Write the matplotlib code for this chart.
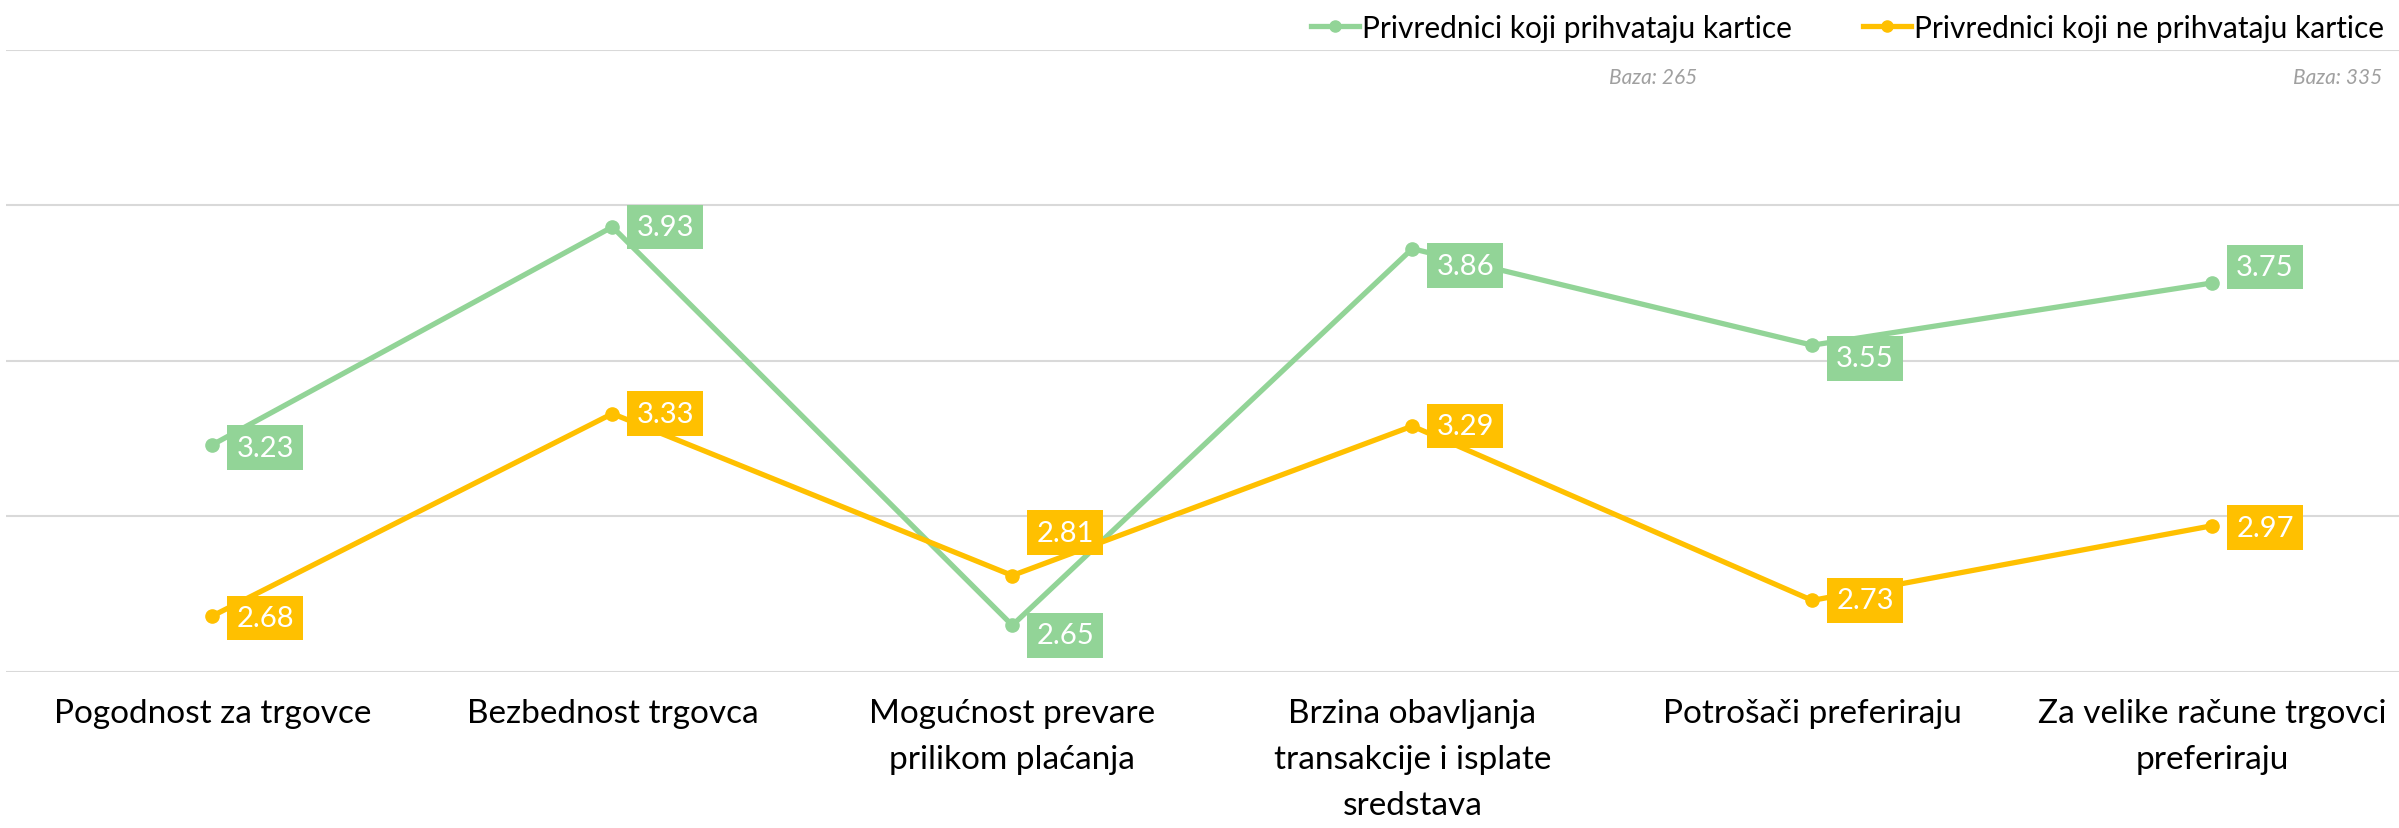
import numpy as np
import matplotlib
matplotlib.use("Agg")
from matplotlib import pyplot as plt
from matplotlib.lines import Line2D

plt.rcParams['font.family'] = ['Lato', 'DejaVu Sans']

categories = ["Pogodnost za trgovce", "Bezbednost trgovca",
              "Mogućnost prevare\nprilikom plaćanja",
              "Brzina obavljanja\ntransakcije i isplate\nsredstava",
              "Potrošači preferiraju",
              "Za velike račune trgovci\npreferiraju"]
prihvataju = [3.23, 3.93, 2.65, 3.86, 3.55, 3.75]
ne_prihvataju = [2.68, 3.33, 2.81, 3.29, 2.73, 2.97]
serije = ["Privrednici koji prihvataju kartice", "Privrednici koji ne prihvataju kartice"]
baze = ["Baza: 265", "Baza: 335"]

green = '#92D497'
yellow = '#FFC000'

# vertical nudges of data labels (pixels, up positive)
dy_green = [-3, 0, -10, -17, -13, 16]
dy_yellow = [-2, 0, 43, 0, 0, -2]

fig = plt.figure(figsize=(23.99, 8.29), dpi=100)
ax = fig.add_axes([6 / 2399, 156 / 829, 2393 / 2399, 622.5 / 829])

x = np.arange(len(categories))
ax.plot(x, prihvataju, color=green, lw=3.8, marker='o', ms=9.5, zorder=3)
ax.plot(x, ne_prihvataju, color=yellow, lw=3.8, marker='o', ms=9.5, zorder=3)

for vals, col, dys in [(prihvataju, green, dy_green), (ne_prihvataju, yellow, dy_yellow)]:
    for i, v in enumerate(vals):
        ax.annotate(f'{v:.2f}', (i, v), xytext=(24, dys[i]), textcoords='offset pixels',
                    ha='left', va='center', color='white', fontsize=21, zorder=5,
                    bbox=dict(boxstyle='square,pad=0.32', fc=col, ec='none'))

ax.set_ylim(2.5, 4.5)
ax.set_xlim(-0.516, 5.467)
ax.set_yticks([2.5, 3.0, 3.5, 4.0, 4.5])
ax.yaxis.grid(True, color='#D9D9D9', lw=1.5)
ax.set_axisbelow(True)
ax.tick_params(axis='y', left=False, labelleft=False)
ax.set_xticks(x)
ax.set_xticklabels(categories, fontsize=24, linespacing=1.66)
ax.tick_params(axis='x', length=0, pad=19)
for s in ax.spines.values():
    s.set_visible(False)

handles = [Line2D([], [], color=green, lw=3.8, marker='o', ms=8),
           Line2D([], [], color=yellow, lw=3.8, marker='o', ms=8)]
fig.legend(handles, serije, loc='upper right', bbox_to_anchor=(1.0, 1.0), ncol=2,
           frameon=False, fontsize=21.5, handlelength=1.6, handletextpad=0.1,
           columnspacing=2.4, borderaxespad=0.1)

fig.text(1697 / 2399, 1 - 78 / 829, baze[0], ha='right', va='center',
         fontsize=15, style='italic', color='#A0A0A0')
fig.text(2382 / 2399, 1 - 78 / 829, baze[1], ha='right', va='center',
         fontsize=15, style='italic', color='#A0A0A0')

fig.savefig('out.png', dpi=100)
